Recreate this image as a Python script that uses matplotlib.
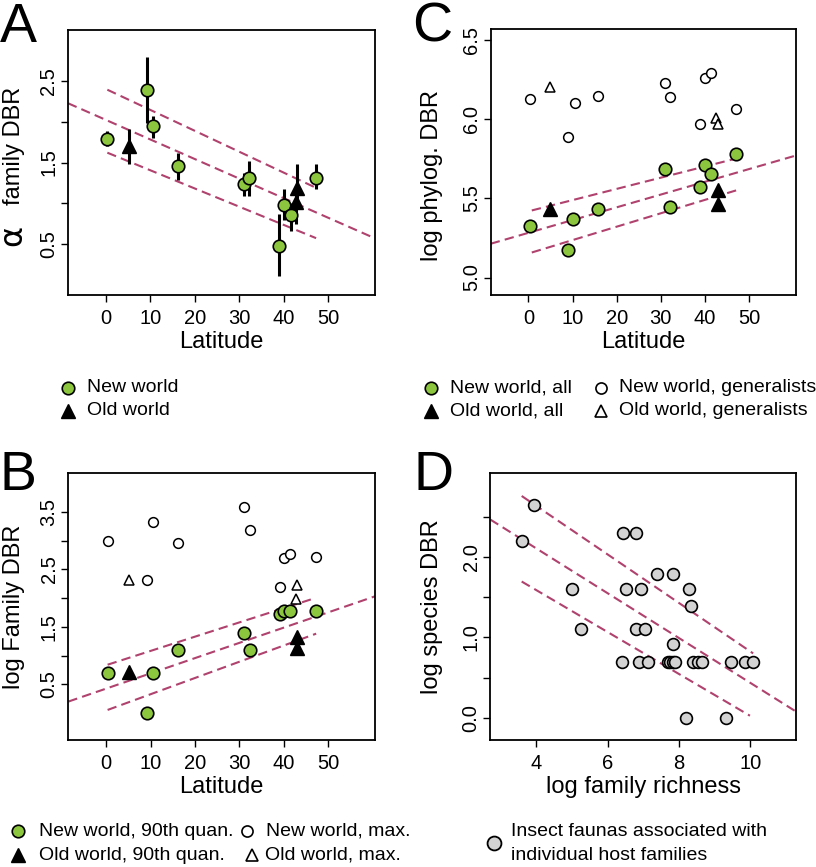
#!/usr/bin/env python3
"""Four-panel DBR vs latitude / family richness figure."""

import matplotlib
matplotlib.use("Agg")
import matplotlib.pyplot as plt
from matplotlib.lines import Line2D
import numpy as np

plt.rcParams["font.family"] = ["Liberation Sans", "DejaVu Sans"]

W, H = 816, 867
GREEN = "#8cc63f"
GREY = "#d3d3d3"
DASH = "#b0426e"
TICK_FS = 14.5
LABEL_FS = 17

# ---- Panel A: alpha family DBR vs latitude (with error bars)
a_new_lat = [0.3, 9.25, 10.5, 16.2, 31.1, 32.3, 39.05, 40.0, 41.6, 47.3]
a_new_val = [1.79, 2.39, 1.95, 1.46, 1.24, 1.31, 0.48, 0.98, 0.86, 1.31]
a_new_lo = [1.70, 1.98, 1.80, 1.28, 1.09, 1.09, 0.11, 0.80, 0.66, 1.17]
a_new_hi = [1.88, 2.79, 2.07, 1.62, 1.37, 1.52, 0.87, 1.17, 1.01, 1.48]
a_old_lat = [5.2, 43.0, 42.8]
a_old_val = [1.70, 1.19, 1.02]
a_old_lo = [1.48, 0.95, 0.75]
a_old_hi = [1.91, 1.48, 1.15]
a_fit = (2.02, -0.0239)
a_band_1 = ([0.3, 47.3], [2.39, 1.19])
a_band_2 = ([0.3, 47.3], [1.62, 0.575])

# ---- Panel B: log family DBR vs latitude
b_new_lat = [0.3, 9.2, 10.5, 16.2, 31.1, 32.3, 39.05, 40.0, 41.4, 47.3]
b_new_q90 = [0.69, 0.0, 0.69, 1.10, 1.39, 1.10, 1.72, 1.78, 1.78, 1.78]
b_new_max = [2.99, 2.31, 3.33, 2.95, 3.58, 3.18, 2.20, 2.70, 2.77, 2.72]
b_old_lat = [5.2, 43.0, 43.0]
b_old_q90 = [0.72, 1.33, 1.13]
b_old_max_lat = [5.2, 43.0, 42.7]
b_old_max = [2.31, 2.22, 1.975]
b_fit = (0.425, 0.0265)
b_band_1 = ([0.3, 46.1], [0.84, 1.975])
b_band_2 = ([0.3, 47.3], [0.053, 1.38])

# ---- Panel C: log phylog. DBR vs latitude
c_new_lat = [0.37, 9.05, 10.2, 15.8, 30.85, 32.1, 38.8, 40.0, 41.4, 47.1]
c_new_all = [5.322, 5.171, 5.369, 5.432, 5.686, 5.447, 5.571, 5.71, 5.655, 5.777]
c_gen_lat = [0.37, 9.0, 10.45, 15.8, 30.85, 32.1, 38.8, 39.9, 41.4, 47.1]
c_new_gen = [6.128, 5.884, 6.098, 6.143, 6.227, 6.136, 5.968, 6.256, 6.29, 6.063]
c_old_lat = [4.8, 43.0, 43.0]
c_old_all = [5.43, 5.55, 5.464]
c_old_gen_lat = [4.97, 42.6, 43.0]
c_old_gen = [6.20, 6.006, 5.968]
c_fit = (5.282, 0.00804)
c_band_1 = ([0.75, 47.6], [5.423, 5.754])
c_band_2 = ([0.75, 47.6], [5.158, 5.554])

# ---- Panel D: log species DBR vs log family richness
d_rich = [3.59, 3.94, 4.99, 5.26, 6.41, 6.44, 6.51, 6.80, 6.80, 6.89, 6.93,
          7.06, 7.13, 7.39, 7.68, 7.76, 7.84, 7.89, 7.82, 7.83, 8.21, 8.29,
          8.35, 8.39, 8.52, 8.65, 9.33, 9.45, 9.84, 10.07]
d_dbr = [2.195, 2.64, 1.607, 1.10, 0.692, 2.303, 1.607, 2.303, 1.10, 0.692,
         1.607, 1.10, 0.692, 1.793, 0.692, 0.692, 0.692, 0.692, 0.92, 1.793,
         0.0, 1.607, 1.388, 0.692, 0.692, 0.692, 0.0, 0.692, 0.692, 0.692]
d_fit = (3.22, -0.2786)
d_band_1 = ([3.59, 10.08], [2.758, 0.80])
d_band_2 = ([3.59, 9.99], [1.694, 0.025])


def fig_rect(left, top, right, bottom):
    return [left / W, 1 - bottom / H, (right - left) / W, (bottom - top) / H]


def style_axes(ax, xlim, ylim, xticks, yticks, ylabels):
    ax.set_xlim(*xlim)
    ax.set_ylim(*ylim)
    ax.set_xticks(xticks)
    ax.set_yticks(yticks, ylabels)
    for s in ax.spines.values():
        s.set_linewidth(1.3)
    ax.tick_params(direction="out", length=5, width=1.0, labelsize=TICK_FS)
    ax.tick_params(axis="x", pad=5)
    ax.tick_params(axis="y", pad=2, labelrotation=90)
    for lbl in ax.get_yticklabels():
        lbl.set_va("center")


def draw_fit(ax, fit, band_1, band_2, xlim):
    xs = np.array(xlim)
    kw = dict(color=DASH, lw=1.5, dashes=(4.5, 2.5), zorder=2)
    ax.plot(xs, fit[0] + fit[1] * xs, **kw)
    for bx, by in (band_1, band_2):
        ax.plot(bx, by, **kw)


fig = plt.figure(figsize=(W / 100, H / 100), dpi=100)

lat_lim = (-8.56, 60.56)
lat_ticks = [0, 10, 20, 30, 40, 50]

# Panel A
axA = fig.add_axes(fig_rect(68, 30, 375, 295))
style_axes(axA, lat_lim, (-0.12, 3.12), lat_ticks, [0.5, 1.0, 1.5, 2.0, 2.5],
           ["0.5", "", "1.5", "", "2.5"])
draw_fit(axA, a_fit, a_band_1, a_band_2, lat_lim)
axA.vlines(a_new_lat, a_new_lo, a_new_hi, color="black", lw=2.2, zorder=3)
axA.vlines(a_old_lat, a_old_lo, a_old_hi, color="black", lw=2.2, zorder=3)
axA.plot(a_new_lat, a_new_val, "o", ms=9, mfc=GREEN, mec="black", mew=1.2, zorder=4)
axA.plot(a_old_lat, a_old_val, "^", ms=10, mfc="black", mec="black", zorder=4)
axA.set_xlabel("Latitude", fontsize=LABEL_FS, labelpad=2)
axA.text(-43 / 307, (295 - 145.7) / 265, "family DBR", transform=axA.transAxes,
         rotation=90, ha="right", va="center", fontsize=LABEL_FS)
axA.text(-53 / 307, (295 - 237) / 265, r"$\mathrm{\alpha}$", transform=axA.transAxes,
         rotation=90, ha="center", va="center", fontsize=23,
         math_fontfamily="dejavusans")

# Panel C
axC = fig.add_axes(fig_rect(490.7, 29.3, 795.7, 295))
style_axes(axC, lat_lim, (4.89, 6.565), lat_ticks, [5.0, 5.5, 6.0, 6.5],
           ["5.0", "5.5", "6.0", "6.5"])
draw_fit(axC, c_fit, c_band_1, c_band_2, lat_lim)
axC.plot(c_gen_lat, c_new_gen, "o", ms=7, mfc="white", mec="black", mew=1.1, zorder=4)
axC.plot(c_old_gen_lat, c_old_gen, "^", ms=7.5, mfc="white", mec="black", mew=1.1, zorder=4)
axC.plot(c_new_lat, c_new_all, "o", ms=9, mfc=GREEN, mec="black", mew=1.2, zorder=4)
axC.plot(c_old_lat, c_old_all, "^", ms=10, mfc="black", mec="black", zorder=4)
axC.set_xlabel("Latitude", fontsize=LABEL_FS, labelpad=2)
axC.set_ylabel("log phylog. DBR", fontsize=LABEL_FS)
axC.yaxis.set_label_coords(-48 / 305, 0.45)

# Panel B
axB = fig.add_axes(fig_rect(68.3, 473.3, 375, 740))
style_axes(axB, lat_lim, (-0.47, 4.17), lat_ticks,
           [0.5, 1.0, 1.5, 2.0, 2.5, 3.0, 3.5],
           ["0.5", "", "1.5", "", "2.5", "", "3.5"])
draw_fit(axB, b_fit, b_band_1, b_band_2, lat_lim)
axB.plot(b_new_lat, b_new_max, "o", ms=7, mfc="white", mec="black", mew=1.1, zorder=4)
axB.plot(b_old_max_lat, b_old_max, "^", ms=7.5, mfc="white", mec="black", mew=1.1, zorder=4)
axB.plot(b_new_lat, b_new_q90, "o", ms=9, mfc=GREEN, mec="black", mew=1.2, zorder=4)
axB.plot(b_old_lat, b_old_q90, "^", ms=10, mfc="black", mec="black", zorder=4)
axB.set_xlabel("Latitude", fontsize=LABEL_FS, labelpad=2)
axB.set_ylabel("log Family DBR", fontsize=LABEL_FS)
axB.yaxis.set_label_coords(-43 / 307, 0.5)

# Panel D
d_lim = (2.71, 11.29)
axD = fig.add_axes(fig_rect(490.3, 473.3, 796.3, 740))
style_axes(axD, d_lim, (-0.277, 3.04), [4, 6, 8, 10],
           [0.0, 0.5, 1.0, 1.5, 2.0, 2.5], ["0.0", "", "1.0", "", "2.0", ""])
draw_fit(axD, d_fit, d_band_1, d_band_2, d_lim)
axD.plot(d_rich, d_dbr, "o", ms=8.5, mfc=GREY, mec="black", mew=1.2, zorder=4)
axD.set_xlabel("log family richness", fontsize=LABEL_FS, labelpad=2)
axD.set_ylabel("log species DBR", fontsize=LABEL_FS)
axD.yaxis.set_label_coords(-47 / 306, 0.5)

# panel letters
for letter, x, y in (("A", 0, 28), ("C", 412, 28), ("B", 0, 476), ("D", 414, 476)):
    fig.text(x / W, 1 - y / H, letter, fontsize=40, ha="left", va="center")


# manual legends in pixel coordinates
def leg_marker(x, y, **kw):
    fig.add_artist(Line2D([x / W], [1 - y / H], transform=fig.transFigure,
                          linestyle="none", **kw))


def leg_text(x, y, s):
    fig.text(x / W, 1 - y / H, s, fontsize=14, ha="left", va="center")


green_kw = dict(marker="o", ms=9, mfc=GREEN, mec="black", mew=1.2)
tri_kw = dict(marker="^", ms=10, mfc="black", mec="black")
open_c_kw = dict(marker="o", ms=8, mfc="white", mec="black", mew=1.2)
open_t_kw = dict(marker="^", ms=9, mfc="white", mec="black", mew=1.2)

leg_marker(68, 388, **green_kw)
leg_text(87, 388, "New world")
leg_marker(68, 411, **tri_kw)
leg_text(87, 411, "Old world")

leg_marker(431, 388, **green_kw)
leg_text(450, 388, "New world, all")
leg_marker(601, 388, **open_c_kw)
leg_text(619, 388, "New world, generalists")
leg_marker(431, 411, **tri_kw)
leg_text(450, 411, "Old world, all")
leg_marker(601, 411, **open_t_kw)
leg_text(619, 411, "Old world, generalists")

leg_marker(18, 831, **green_kw)
leg_text(39, 831, "New world, 90th quan.")
leg_marker(247, 831, **open_c_kw)
leg_text(266, 831, "New world, max.")
leg_marker(18, 855, **tri_kw)
leg_text(39, 855, "Old world, 90th quan.")
leg_marker(252, 855, **open_t_kw)
leg_text(265, 855, "Old world, max.")

leg_marker(494, 843, marker="o", ms=10, mfc=GREY, mec="black", mew=1.3)
leg_text(511, 832, "Insect faunas associated with")
leg_text(511, 855, "individual host families")

fig.savefig("out.png", dpi=100)
